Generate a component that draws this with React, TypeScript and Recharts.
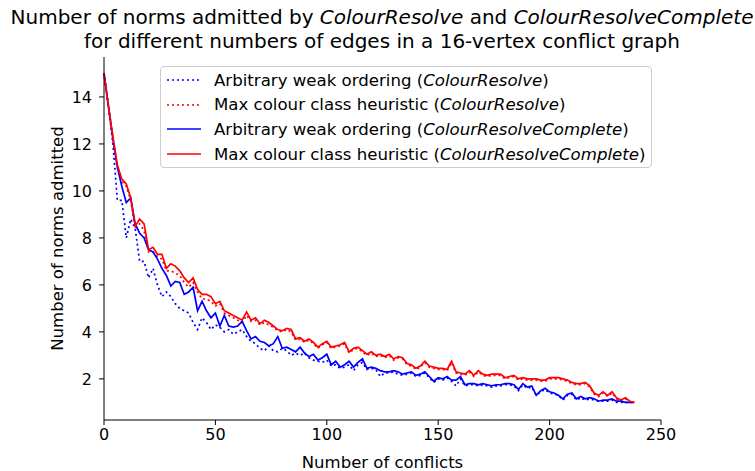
import React from "react";
import { Label, Legend, Line, LineChart, XAxis, YAxis } from "recharts";

const BLUE = "#0000ff";
const RED = "#ff0000";
const FONT = "'DejaVu Sans', sans-serif";

// x values: number of conflicts, every 2
const conflicts = Array.from({ length: 120 }, (_, i) => i * 2);

// Arbitrary weak ordering (ColourResolve) - dotted blue
const arbCR = [
  15.0, 13.6, 12.0, 9.6, 9.6, 8.0, 8.8, 8.4, 7.0, 7.0,
  6.3, 6.7, 6.0, 5.5, 5.7, 5.5, 5.2, 5.0, 4.9, 4.8,
  4.4, 4.1, 4.6, 4.4, 4.1, 4.3, 4.2, 4.0, 4.1, 3.9,
  4.0, 4.1, 3.8, 3.6, 3.5, 3.3, 3.2, 3.4, 3.2, 3.15,
  3.3, 3.2, 3.0, 3.1, 3.0, 3.1, 2.9, 2.8, 2.75, 2.7,
  2.8, 2.55, 2.6, 2.45, 2.5, 2.6, 2.35, 2.6, 2.7, 2.4,
  2.45, 2.4, 2.1, 2.25, 2.25, 2.3, 2.2, 2.15, 2.2, 2.25,
  2.1, 2.15, 2.25, 2.05, 1.85, 2.0, 1.95, 2.05, 1.9, 1.7,
  2.0, 1.7, 1.75, 1.75, 1.7, 1.75, 1.7, 1.65, 1.7, 1.7,
  1.75, 1.75, 1.7, 1.5, 1.75, 1.6, 1.65, 1.3, 1.45, 1.55,
  1.4, 1.35, 1.3, 1.1, 1.3, 1.35, 1.1, 1.2, 1.1, 1.15,
  1.1, 1.05, 1.05, 1.05, 1.1, 1.0, 1.0, 1.0, 1.0, 1.0,
];

// Max colour class heuristic (ColourResolve) - dotted red
const maxCR = [
  15.0, 13.6, 12.3, 11.0, 10.4, 10.2, 9.6, 8.4, 8.6, 8.3,
  7.4, 7.4, 7.2, 7.1, 6.6, 6.6, 6.5, 6.4, 6.1, 5.9,
  6.1, 5.7, 5.4, 5.4, 5.3, 5.1, 5.2, 4.8, 4.7, 4.6,
  4.5, 4.4, 4.7, 4.45, 4.5, 4.3, 4.4, 4.3, 4.2, 4.05,
  4.0, 4.1, 4.0, 3.65, 3.7, 3.55, 3.65, 3.5, 3.3, 3.45,
  3.55, 3.3, 3.35, 3.4, 3.5, 3.1, 3.25, 3.3, 3.15, 3.0,
  3.1, 2.95, 3.0, 2.9, 3.0, 2.8, 2.9, 2.85, 2.6, 2.55,
  2.4, 2.5, 2.7, 2.5, 2.45, 2.4, 2.4, 2.35, 2.7, 2.25,
  2.2, 2.15, 2.3, 2.1, 2.3, 2.15, 2.1, 2.15, 2.15, 2.15,
  2.0, 2.05, 2.1, 1.95, 2.0, 1.95, 1.95, 1.95, 1.9, 1.9,
  2.0, 2.0, 2.0, 1.95, 1.9, 1.8, 1.75, 1.75, 1.8, 1.65,
  1.35, 1.25, 1.4, 1.25, 1.4, 1.15, 1.05, 1.15, 1.0, 1.0,
];

// Arbitrary weak ordering (ColourResolveComplete) - solid blue
const arbCRC = [
  15.0, 13.6, 12.2, 11.0, 10.2, 9.5, 9.7, 8.6, 8.2, 8.0,
  7.5, 7.4, 7.1, 6.7, 6.4, 5.95, 6.15, 6.1, 5.6, 5.7,
  5.9, 4.9, 5.3, 4.9, 4.6, 4.8, 4.25, 4.7, 4.25, 4.2,
  4.25, 4.45, 4.05, 3.7, 3.8, 3.6, 3.55, 3.4, 3.5, 3.8,
  3.3, 3.35, 3.25, 3.15, 3.35, 3.1, 2.95, 3.05, 2.8, 2.9,
  3.05, 2.6, 2.75, 2.5, 2.6, 2.75, 2.5, 2.7, 2.85, 2.45,
  2.5, 2.45, 2.35, 2.3, 2.3, 2.35, 2.3, 2.2, 2.25, 2.3,
  2.15, 2.2, 2.3, 2.1, 1.9, 2.05, 2.0, 2.1, 1.95, 1.95,
  2.1, 1.75, 1.8, 1.8, 1.75, 1.8, 1.75, 1.7, 1.75, 1.75,
  1.8, 1.8, 1.75, 1.55, 1.8, 1.65, 1.7, 1.3, 1.5, 1.6,
  1.45, 1.4, 1.3, 1.15, 1.35, 1.4, 1.15, 1.25, 1.15, 1.2,
  1.15, 1.05, 1.1, 1.1, 1.15, 1.05, 1.05, 1.0, 1.0, 1.0,
];

// Max colour class heuristic (ColourResolveComplete) - solid red
const maxCRC = [
  15.0, 13.6, 12.3, 11.1, 10.5, 10.3, 9.7, 8.5, 8.8, 8.6,
  7.5, 7.6, 7.3, 7.3, 6.7, 6.9, 6.8, 6.6, 6.3, 6.1,
  6.3, 5.8, 5.6, 5.6, 5.5, 5.2, 5.3, 4.9, 4.8, 4.7,
  4.6, 4.5, 4.85, 4.5, 4.6, 4.35, 4.5, 4.4, 4.25, 4.1,
  4.05, 4.15, 4.1, 3.7, 3.75, 3.6, 3.7, 3.55, 3.35, 3.5,
  3.6, 3.35, 3.4, 3.45, 3.55, 3.15, 3.3, 3.35, 3.2, 3.05,
  3.15, 3.0, 3.05, 2.95, 3.05, 2.85, 2.95, 2.9, 2.65, 2.6,
  2.45, 2.55, 2.75, 2.55, 2.5, 2.45, 2.45, 2.4, 2.75, 2.3,
  2.25, 2.2, 2.35, 2.15, 2.35, 2.2, 2.15, 2.2, 2.2, 2.2,
  2.05, 2.1, 2.15, 2.0, 2.05, 2.0, 2.0, 2.0, 1.95, 1.95,
  2.05, 2.05, 2.05, 2.0, 1.95, 1.85, 1.8, 1.8, 1.85, 1.7,
  1.4, 1.3, 1.45, 1.3, 1.45, 1.2, 1.1, 1.2, 1.05, 1.0,
];

const xTicks = [0, 50, 100, 150, 200, 250];
const yTicks = [2, 4, 6, 8, 10, 12, 14];

const series = [
  { key: "arbCR", label: "Arbitrary weak ordering", algo: "ColourResolve", color: BLUE, dash: "2 3" },
  { key: "maxCR", label: "Max colour class heuristic", algo: "ColourResolve", color: RED, dash: "2 3" },
  { key: "arbCRC", label: "Arbitrary weak ordering", algo: "ColourResolveComplete", color: BLUE, dash: undefined },
  { key: "maxCRC", label: "Max colour class heuristic", algo: "ColourResolveComplete", color: RED, dash: undefined },
];

const data = conflicts.map((c, i) => ({
  c,
  arbCR: arbCR[i],
  maxCR: maxCR[i],
  arbCRC: arbCRC[i],
  maxCRC: maxCRC[i],
}));

const tickStyle = { fontSize: 16, fill: "#000", fontFamily: FONT };
const labelStyle = { fontSize: 16.5, fill: "#000", fontFamily: FONT };

function LegendBox() {
  return (
    <div
      style={{
        border: "1px solid #cccccc",
        borderRadius: 4,
        background: "rgba(255,255,255,0.8)",
        padding: "1px 5px 1px 6px",
        fontFamily: FONT,
        fontSize: 16.6,
        color: "#000",
      }}
    >
      {series.map((s) => (
        <div key={s.key} style={{ display: "flex", alignItems: "center", height: 24.6, whiteSpace: "nowrap" }}>
          <svg width={34} height={10} style={{ marginRight: 13, flex: "none" }}>
            <line x1={0} y1={5} x2={34} y2={5} stroke={s.color} strokeWidth={1.7} strokeDasharray={s.dash} />
          </svg>
          <span>
            {s.label} (<i>{s.algo}</i>)
          </span>
        </div>
      ))}
    </div>
  );
}

export default function App() {
  return (
    <div style={{ position: "absolute", left: 0, top: 0, width: 755, height: 471, background: "#fff" }}>
      <div
        style={{
          position: "absolute",
          left: 0,
          top: 5,
          width: 764,
          textAlign: "center",
          fontFamily: FONT,
          fontSize: 20,
          lineHeight: "24px",
          color: "#000",
          whiteSpace: "nowrap",
        }}
      >
        Number of norms admitted by <i>ColourResolve</i> and <i>ColourResolveComplete</i>
        <br />
        for different numbers of edges in a 16-vertex conflict graph
      </div>
      <LineChart width={755} height={471} data={data} margin={{ top: 57, right: 94, bottom: 0, left: 0 }}>
        <XAxis
          dataKey="c"
          type="number"
          domain={[0, 250]}
          ticks={xTicks}
          height={51}
          tick={tickStyle}
          tickSize={5}
          tickMargin={4}
          stroke="#000"
          tickLine={{ stroke: "#000" }}
        >
          <Label value="Number of conflicts" position="insideBottom" offset={3} style={labelStyle} />
        </XAxis>
        <YAxis
          type="number"
          domain={[0.25, 15.7]}
          ticks={yTicks}
          width={104}
          tick={tickStyle}
          tickSize={5}
          tickMargin={7}
          stroke="#000"
          tickLine={{ stroke: "#000" }}
          allowDataOverflow
        >
          <Label
            value="Number of norms admitted"
            angle={-90}
            position="center"
            dx={5}
            style={{ ...labelStyle, textAnchor: "middle" }}
          />
        </YAxis>
        <Legend
          layout="vertical"
          align="center"
          verticalAlign="middle"
          wrapperStyle={{ top: 66, left: 160, width: "auto", height: "auto" }}
          content={() => <LegendBox />}
        />
        {series.map((s) => (
          <Line
            key={s.key}
            dataKey={s.key}
            type="linear"
            stroke={s.color}
            strokeWidth={1.7}
            strokeDasharray={s.dash}
            dot={false}
            activeDot={false}
            isAnimationActive={false}
          />
        ))}
      </LineChart>
    </div>
  );
}
